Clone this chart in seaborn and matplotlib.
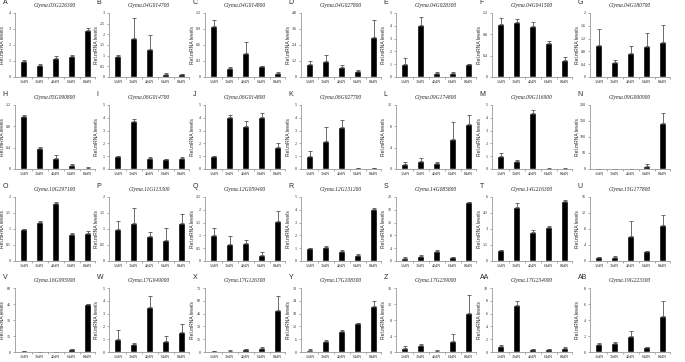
import matplotlib
matplotlib.use('Agg')
import matplotlib.pyplot as plt
import seaborn as sns
import numpy as np
import pandas as pd
from matplotlib.ticker import FuncFormatter, FixedLocator

sns.set_theme(style='white')
plt.rcParams['font.family'] = ['Liberation Serif', 'DejaVu Serif']

stages = ['12dN', '30dN', '42dN', '64dN', '84dN']
letters = ['A', 'B', 'C', 'D', 'E', 'F', 'G',
           'H', 'I', 'J', 'K', 'L', 'M', 'N',
           'O', 'P', 'Q', 'R', 'S', 'T', 'U',
           'V', 'W', 'X', 'Y', 'Z', 'AA', 'AB']
titles = ['Glyma.03G226300', 'Glyma.04G014700', 'Glyma.04G014800', 'Glyma.04G027800',
          'Glyma.04G028300', 'Glyma.04G041500', 'Glyma.04G180700',
          'Glyma.05G090800', 'Glyma.06G014700', 'Glyma.06G014800', 'Glyma.06G027700',
          'Glyma.09G174800', 'Glyma.09G116900', 'Glyma.09G000900',
          'Glyma.10G297100', 'Glyma.11G113300', 'Glyma.12G059400', 'Glyma.12G131200',
          'Glyma.14G085800', 'Glyma.14G216300', 'Glyma.15G177800',
          'Glyma.16G095900', 'Glyma.17G049000', 'Glyma.17G126300', 'Glyma.17G108300',
          'Glyma.17G239000', 'Glyma.17G234900', 'Glyma.19G223300']

val_A = [1.0, 0.78, 1.2, 1.32, 2.92];   err_A = [0.08, 0.03, 0.1, 0.03, 0.12]
val_B = [1.0, 1.85, 1.3, 0.15, 0.12];  err_B = [0.05, 0.92, 0.68, 0.02, 0.03]
val_C = [0.95, 0.17, 0.45, 0.2, 0.07]; err_C = [0.12, 0.01, 0.2, 0.005, 0.03]
val_D = [0.98, 1.18, 0.73, 0.45, 3.0]; err_D = [0.2, 0.45, 0.15, 0.1, 1.25]
val_E = [1.0, 4.05, 0.35, 0.35, 1.0];  err_E = [0.5, 0.6, 0.05, 0.01, 0.03]
val_F = [1.0, 1.03, 0.95, 0.63, 0.32]; err_F = [0.11, 0.06, 0.08, 0.05, 0.05]
val_G = [1.0, 0.47, 0.76, 0.96, 1.08]; err_G = [0.5, 0.07, 0.2, 0.4, 0.53]
val_H = [1.0, 0.4, 0.2, 0.08, 0.02];   err_H = [0.01, 0.02, 0.06, 0.01, 0.01]
val_I = [1.0, 3.78, 0.88, 0.75, 0.85]; err_I = [0.05, 0.15, 0.06, 0.03, 0.1]
val_J = [1.0, 4.05, 3.35, 4.1, 1.75];  err_J = [0.05, 0.2, 0.4, 0.25, 0.3]
val_K = [1.0, 2.2, 3.25, 0.05, 0.05];  err_K = [0.4, 1.05, 0.6, 0.01, 0.01]
val_L = [1.0, 1.5, 1.1, 5.7, 8.5];     err_L = [0.25, 0.6, 0.15, 3.1, 1.7]
val_M = [1.0, 0.65, 4.35, 0.03, 0.03]; err_M = [0.25, 0.05, 0.25, 0.01, 0.01]
val_N = [1.0, 1.0, 1.0, 10.0, 143.0];  err_N = [0.5, 0.3, 0.3, 6.0, 32.0]
val_O = [1.0, 1.22, 1.8, 0.85, 0.87];  err_O = [0.01, 0.02, 0.04, 0.03, 0.06]
val_P = [1.0, 1.2, 0.78, 0.67, 1.2];   err_P = [0.25, 0.47, 0.12, 0.37, 0.28]
val_Q = [1.0, 0.68, 0.7, 0.22, 1.58];  err_Q = [0.28, 0.3, 0.12, 0.15, 0.38]
val_R = [1.0, 1.12, 0.82, 0.5, 4.1];   err_R = [0.03, 0.06, 0.05, 0.07, 0.04]
val_S = [1.0, 1.7, 3.1, 1.1, 18.3];    err_S = [0.1, 0.15, 0.3, 0.1, 0.15]
val_T = [1.03, 5.1, 2.7, 3.2, 5.64];   err_T = [0.03, 0.35, 0.2, 0.12, 0.06]
val_U = [1.0, 1.1, 6.2, 2.4, 9.1];     err_U = [0.1, 0.1, 3.9, 0.2, 2.3]
val_V = [1.0, 0.3, 0.4, 2.5, 45.0];    err_V = [0.1, 0.05, 0.05, 0.3, 0.3]
val_W = [1.0, 0.62, 3.5, 0.88, 1.58];  err_W = [0.72, 0.05, 0.9, 0.35, 0.6]
val_X = [1.0, 1.7, 3.0, 5.0, 49.0];    err_X = [0.2, 0.3, 0.6, 0.8, 17.0]
val_Y = [1.0, 5.0, 9.9, 13.5, 21.5];   err_Y = [0.2, 0.4, 0.5, 0.3, 2.5]
val_Z = [1.0, 1.7, 0.3, 2.7, 9.8];     err_Z = [0.5, 0.4, 0.3, 1.8, 4.5]
val_AA = [1.0, 7.3, 0.4, 0.45, 0.7];   err_AA = [0.05, 0.7, 0.03, 0.05, 0.05]
val_AB = [1.0, 1.15, 2.0, 0.6, 4.5];   err_AB = [0.15, 0.1, 0.6, 0.05, 1.9]

y_top = [4, 3, 1.2, 4.8, 5, 1.2, 2,
         1.2, 5, 5, 5, 12, 5, 200,
         2, 2, 2.5, 5, 20, 6, 16,
         60, 5, 75, 30, 16, 10, 8]
y_step = [1, 0.5, 0.3, 1.2, 1, 0.4, 0.4,
          0.4, 1, 1, 1, 4, 1, 50,
          0.5, 0.5, 0.5, 1, 4, 1.5, 4,
          15, 1, 15, 6, 4, 2, 2]

values = [val_A, val_B, val_C, val_D, val_E, val_F, val_G,
          val_H, val_I, val_J, val_K, val_L, val_M, val_N,
          val_O, val_P, val_Q, val_R, val_S, val_T, val_U,
          val_V, val_W, val_X, val_Y, val_Z, val_AA, val_AB]
errors = [err_A, err_B, err_C, err_D, err_E, err_F, err_G,
          err_H, err_I, err_J, err_K, err_L, err_M, err_N,
          err_O, err_P, err_Q, err_R, err_S, err_T, err_U,
          err_V, err_W, err_X, err_Y, err_Z, err_AA, err_AB]

W_PX, H_PX = 685, 362
fig = plt.figure(figsize=(W_PX / 100, H_PX / 100), dpi=100)
fig.patch.set_facecolor('white')

col_left = [15, 109, 205, 301, 396, 492, 590]
row_top = [13, 105, 197, 288]
ax_w, ax_h = 80, 64

fmt = FuncFormatter(lambda v, p: '%g' % round(v, 6))

for i in range(28):
    r, c = divmod(i, 7)
    l = col_left[c] / W_PX
    b = 1 - (row_top[r] + ax_h) / H_PX
    ax = fig.add_axes([l, b, ax_w / W_PX, ax_h / H_PX])
    df = pd.DataFrame({'stage': stages, 'level': values[i]})
    sns.barplot(data=df, x='stage', y='level', color='black', saturation=1,
                width=0.45, errorbar=None, ax=ax)
    ax.errorbar(np.arange(5), values[i], yerr=[np.zeros(5), errors[i]], fmt='none',
                ecolor='#555555', elinewidth=0.6, capsize=1.3, capthick=0.6)
    ax.set_xlim(-0.55, 4.45)
    ax.set_ylim(0, y_top[i])
    ax.set_yticks(np.arange(0, y_top[i] + y_step[i] / 2, y_step[i]))
    ax.yaxis.set_major_formatter(fmt)
    ax.xaxis.set_minor_locator(FixedLocator([0.5, 1.5, 2.5, 3.5, 4.45]))
    ax.tick_params(axis='x', which='major', length=0, labelsize=3, pad=2.5)
    ax.tick_params(axis='x', which='minor', length=1.5, width=0.5, color='#888888', direction='out', bottom=True)
    ax.tick_params(axis='y', which='major', length=1.5, width=0.5, color='#888888', labelsize=3, pad=1.5, left=True)
    for s in ['top', 'right']:
        ax.spines[s].set_visible(False)
    for s in ['left', 'bottom']:
        ax.spines[s].set_color('#999999')
        ax.spines[s].set_linewidth(0.6)
    ax.set_xlabel('')
    ax.set_ylabel('Rel.mRNA levels', fontsize=3.6, family=['Liberation Sans', 'DejaVu Sans'])
    ax.yaxis.set_label_coords(-10 / ax_w, 0.5)
    ax.set_title(titles[i], fontsize=4, style='italic', pad=4)
    ax.annotate(letters[i], xy=(0, 1), xycoords='axes fraction', xytext=(-9, 5),
                textcoords='offset points', fontsize=5, family=['Liberation Sans', 'DejaVu Sans'],
                ha='left', va='bottom')

fig.savefig('out.png', dpi=100, facecolor='white')
